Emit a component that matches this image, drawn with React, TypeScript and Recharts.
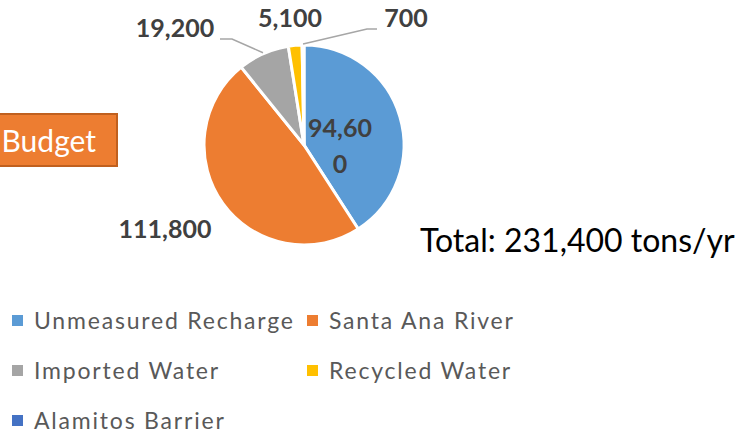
import { PieChart, Pie, Cell } from 'recharts';

// Salt budget inflows (tons/yr)
const sources = ['Unmeasured Recharge', 'Santa Ana River', 'Imported Water', 'Recycled Water', 'Alamitos Barrier'];
const tons = [94600, 111800, 19200, 5100, 700];
const colors = ['#5b9bd5', '#ed7d31', '#a5a5a5', '#ffc000', '#4472c4'];
const totalLabel = 'Total: 231,400 tons/yr';

const data = sources.map((name, i) => ({ name, value: tons[i] }));

// where each data label sits, relative to the pie centre
const labelPlace = [
  { dx: 36, dy: 0, elbow: null },
  { dx: -139, dy: 83, elbow: null },
  { dx: -129, dy: -118, elbow: [[-72, -106], [-84, -106]] },
  { dx: -14, dy: -128, elbow: null },
  { dx: 102, dy: -128, elbow: [[63, -116], [73, -116]] },
];

const RAD = Math.PI / 180;
const fmt = (v: number) => v.toLocaleString('en-US');

function renderLabel(props: any) {
  const { cx, cy, midAngle, outerRadius, index, value } = props;
  const p = labelPlace[index];
  const x = cx + p.dx;
  const y = cy + p.dy;
  const textStyle = { fontFamily: 'Lato', fontWeight: 700, fontSize: 25, fill: '#404040' };
  let line = null;
  if (p.elbow) {
    const sx = cx + (outerRadius + 1) * Math.cos(-midAngle * RAD);
    const sy = cy + (outerRadius + 1) * Math.sin(-midAngle * RAD);
    const pts = [[sx, sy], ...p.elbow.map(([ex, ey]) => [cx + ex, cy + ey])];
    line = <polyline points={pts.map((q) => q.join(',')).join(' ')} fill="none" stroke="#a6a6a6" strokeWidth={1.5} />;
  }
  if (index === 0) {
    // wrapped label inside the slice, like the original
    const s = fmt(value);
    return (
      <g>
        <text x={x} y={y - 18} textAnchor="middle" dominantBaseline="central" style={textStyle}>{s.slice(0, 5)}</text>
        <text x={x} y={y + 18} textAnchor="middle" dominantBaseline="central" style={textStyle}>{s.slice(5)}</text>
      </g>
    );
  }
  return (
    <g>
      {line}
      <text x={x} y={y} textAnchor="middle" dominantBaseline="central" style={textStyle}>{fmt(value)}</text>
    </g>
  );
}

function LegendBox() {
  return (
    <div
      style={{
        position: 'absolute', left: 0, top: 306, display: 'grid', gridTemplateColumns: '295px 250px', rowGap: 22,
        fontFamily: 'Lato', fontSize: 23, color: '#595959', letterSpacing: 1.8,
      }}
    >
      {sources.map((name, i) => (
        <div key={name} style={{ display: 'flex', alignItems: 'center', height: 28, whiteSpace: 'nowrap' }}>
          <span style={{ width: 11, height: 11, flexShrink: 0, background: colors[i], marginLeft: 12, marginRight: 11, display: 'inline-block' }} />
          {name}
        </div>
      ))}
    </div>
  );
}

export default function App() {
  return (
    <div style={{ position: 'absolute', left: 0, top: 0, width: 745, height: 433, background: '#fff', overflow: 'hidden' }}>
      <div
        style={{
          position: 'absolute', left: -60, top: 113, width: 178, height: 54,
          background: '#ed7d31', border: '2px solid #c0601f', color: '#fff',
          fontFamily: 'Lato', fontSize: 30, display: 'flex', alignItems: 'center', justifyContent: 'flex-end',
          paddingRight: 20, boxSizing: 'border-box',
        }}
      >
        Budget
      </div>
      <div style={{ position: 'absolute', left: 420, top: 220, fontFamily: 'Lato', fontSize: 32, color: '#000', whiteSpace: 'nowrap' }}>
        {totalLabel}
      </div>
      <PieChart width={745} height={300} margin={{ top: 0, right: 0, bottom: 0, left: 0 }} style={{ position: 'absolute', left: 0, top: 0 }}>
        <Pie
          data={data}
          dataKey="value"
          nameKey="name"
          cx={304}
          cy={145}
          outerRadius={100}
          startAngle={90}
          endAngle={-270}
          stroke="#fff"
          strokeWidth={3}
          label={renderLabel}
          labelLine={false}
          isAnimationActive={false}
        >
          {data.map((d, i) => (
            <Cell key={d.name} fill={colors[i]} />
          ))}
        </Pie>
      </PieChart>
      <LegendBox />
    </div>
  );
}
